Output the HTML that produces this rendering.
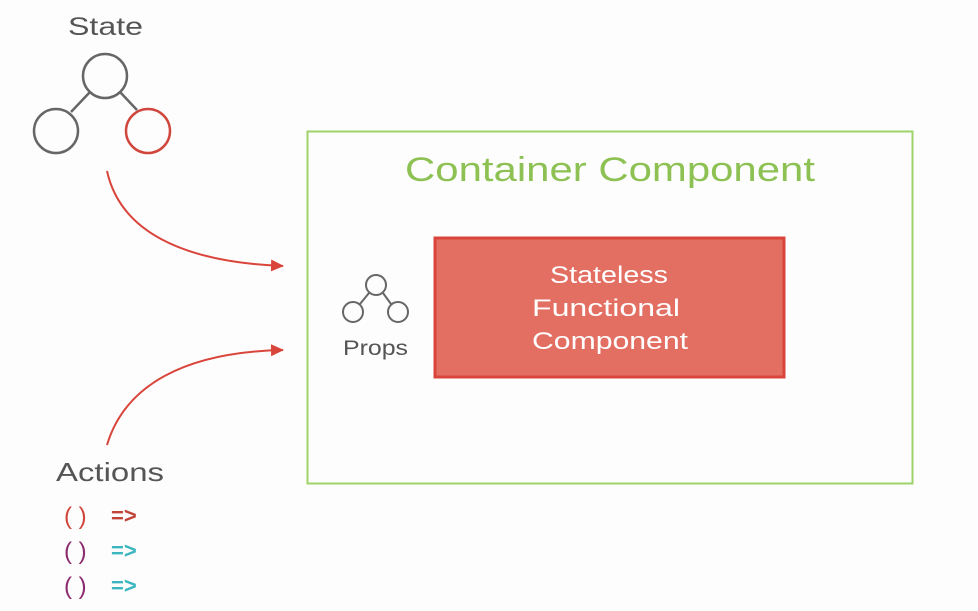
<!DOCTYPE html>
<html><head><meta charset="utf-8"><style>
html,body{margin:0;padding:0;background:#fff;}
svg{display:block;}
text{font-family:"Liberation Sans",sans-serif;}
</style></head><body>
<svg width="978" height="611" viewBox="0 0 978 611" xmlns="http://www.w3.org/2000/svg">
<defs>
<marker id="ah" markerWidth="13" markerHeight="12" refX="12" refY="6" orient="auto" markerUnits="userSpaceOnUse">
<path d="M0,0 L13,6 L0,12 z" fill="#d9453b"/>
</marker>
</defs>
<rect width="978" height="611" fill="#fdfdfd"/>
<text x="68" y="35" font-size="25" fill="#555" textLength="75" lengthAdjust="spacingAndGlyphs">State</text>
<g stroke="#666" stroke-width="2.5" fill="none">
<line x1="90" y1="92" x2="71" y2="112"/>
<line x1="120" y1="92" x2="137" y2="110"/>
<circle cx="105" cy="76" r="22"/>
<circle cx="56" cy="131" r="22"/>
</g>
<circle cx="148" cy="131" r="22" stroke="#d0463c" stroke-width="2.5" fill="none"/>
<path d="M107,171 C120,230 180,262 283,266" stroke="#d9453b" stroke-width="2" fill="none" marker-end="url(#ah)"/>
<path d="M107,445 C125,385 185,352 283,350" stroke="#d9453b" stroke-width="2" fill="none" marker-end="url(#ah)"/>
<rect x="307.5" y="131.5" width="605" height="352" fill="none" stroke="#9ed36a" stroke-width="2"/>
<text x="405" y="181" font-size="34" fill="#8dc153" textLength="410" lengthAdjust="spacingAndGlyphs">Container Component</text>
<rect x="435" y="238" width="349" height="139" fill="#e36e62" stroke="#d9453b" stroke-width="3"/>
<g fill="#fff" font-size="24">
<text x="550" y="283" textLength="118" lengthAdjust="spacingAndGlyphs">Stateless</text>
<text x="532" y="316" textLength="148" lengthAdjust="spacingAndGlyphs">Functional</text>
<text x="532" y="349" textLength="156" lengthAdjust="spacingAndGlyphs">Component</text>
</g>
<g stroke="#666" stroke-width="2" fill="none">
<line x1="369" y1="293" x2="360" y2="304"/>
<line x1="383" y1="293" x2="391" y2="304"/>
<circle cx="376" cy="285" r="10"/>
<circle cx="353" cy="312" r="10"/>
<circle cx="398" cy="312" r="10"/>
</g>
<text x="343" y="355" font-size="21" fill="#555" textLength="65" lengthAdjust="spacingAndGlyphs">Props</text>
<text x="56" y="481" font-size="26" fill="#555" textLength="108" lengthAdjust="spacingAndGlyphs">Actions</text>
<g font-size="24">
<text x="64" y="524" fill="#d0463c">(  )</text>
<text x="111" y="523" fill="#c0443a" font-weight="bold" font-size="22">=&gt;</text>
<text x="64" y="559" fill="#8b2c6f">(  )</text>
<text x="111" y="558" fill="#3bb6c0" font-weight="bold" font-size="22">=&gt;</text>
<text x="64" y="594" fill="#8b2c6f">(  )</text>
<text x="111" y="593" fill="#3bb6c0" font-weight="bold" font-size="22">=&gt;</text>
</g>
</svg>
</body></html>
